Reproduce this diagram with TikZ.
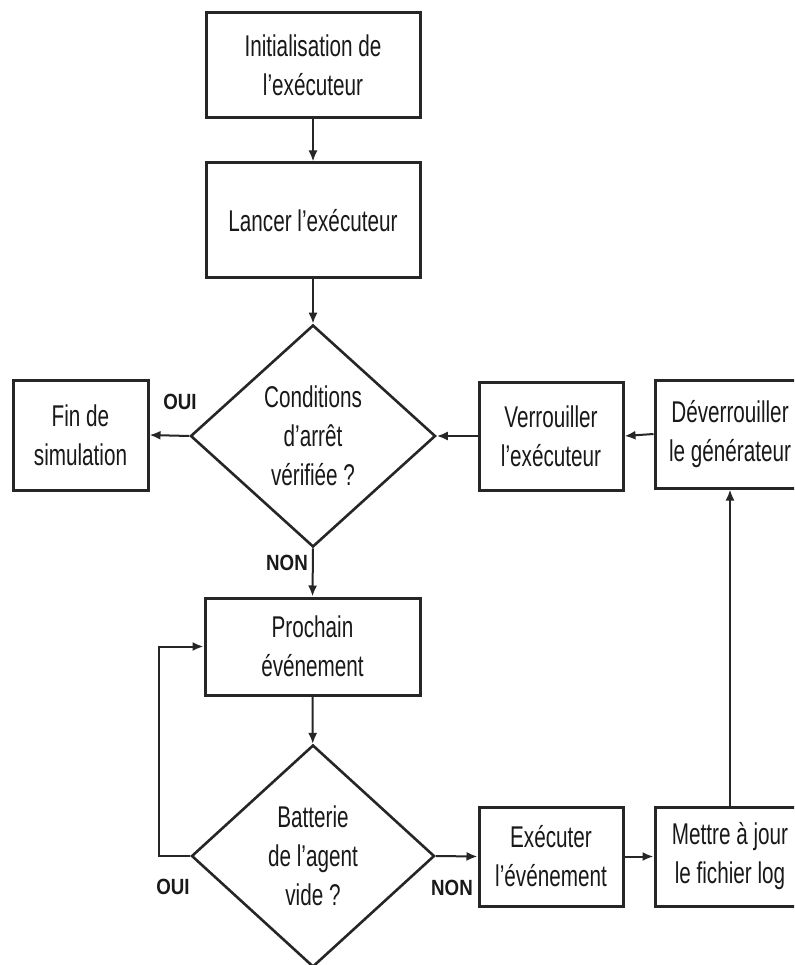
\documentclass[tikz,border=0pt]{standalone}
\usepackage{fontspec}
\setmainfont{Liberation Sans}[FakeStretch=0.69]
\newfontfamily\lblfont{Liberation Sans}[FakeStretch=0.85]
\usetikzlibrary{shapes.geometric,arrows.meta}
\begin{document}
\begin{tikzpicture}[x=1pt,y=-1pt,
  txt/.style={font=\fontsize{30}{39}\selectfont, align=center, text=black!90},
  stepbox/.style={txt, draw=black!85, line width=3pt, rectangle, inner sep=0pt},
  decision/.style={txt, draw=black!85, line width=2.6pt, diamond, inner sep=0pt,
    minimum width=245pt, minimum height=222pt},
  lbl/.style={font=\lblfont\bfseries\fontsize{22}{24}\selectfont, text=black!90, inner sep=0pt},
  flow/.style={draw=black!85, line width=2pt, -{Latex[length=11pt,width=9pt]}}]
\useasboundingbox (0,0) rectangle (794,965);
\clip (0,0) rectangle (794,965);
\fill[white] (0,0) rectangle (794,965);

% main column
\node[stepbox, minimum width=214pt, minimum height=105pt] (init) at (313,65.5)
  {Initialisation de\\l'exécuteur};
\node[stepbox, minimum width=214pt, minimum height=115pt] (lancer) at (313,220.5)
  {Lancer l'exécuteur};
\node[decision] (cond) at (313,436) {Conditions\\d'arrêt\\vérifiée ?};
\node[stepbox, minimum width=215pt, minimum height=97pt] (prochain) at (312.5,646.5)
  {Prochain\\événement};
\node[decision, minimum width=243pt] (batt) at (313,856) {Batterie\\de l'agent\\vide ?};

% side boxes
\node[stepbox, minimum width=135pt, minimum height=110pt] (fin) at (80.5,435)
  {Fin de\\simulation};
\node[stepbox, minimum width=144pt, minimum height=108pt] (verr) at (551,436)
  {Verrouiller\\l'exécuteur};
\node[stepbox, minimum width=150pt, minimum height=108pt] (deverr) at (730,434)
  {Déverrouiller\\le générateur};
\node[stepbox, minimum width=144pt, minimum height=99pt] (exec) at (551,856.5)
  {Exécuter\\l'événement};
\node[stepbox, minimum width=150pt, minimum height=99pt] (maj) at (730,856.5)
  {Mettre à jour\\le fichier log};

% connectors
\draw[flow] (init) -- (lancer);
\draw[flow] (lancer) -- (cond);
\draw[flow] (cond.west) -- (fin.east);
\draw[flow] (cond.south) -- (prochain.north);
\draw[flow] (verr.west) -- (cond.east);
\draw[flow] (deverr.west) -- (verr.east);
\draw[flow] (prochain) -- (batt);
\draw[flow] (batt.east) -- (exec.west);
\draw[flow] (exec.east) -- (maj.west);
\draw[flow] (maj.north) -- (deverr.south);
\coordinate (loop) at (159,856);
\draw[flow] (batt.west) -- (loop) |- (prochain.west);

% branch labels
\node[lbl] (oui1) at (180,402) {OUI};
\node[lbl] (non1) at (287,563) {NON};
\node[lbl] (oui2) at (173,887) {OUI};
\node[lbl] (non2) at (452,888) {NON};
\end{tikzpicture}
\end{document}
